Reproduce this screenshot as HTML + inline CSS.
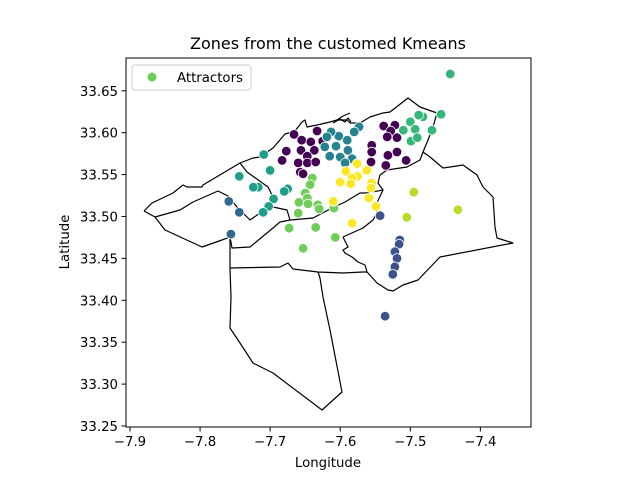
<!DOCTYPE html>
<html><head><meta charset="utf-8">
<style>
body{margin:0;background:#fff;}
svg text{font-family:"DejaVu Sans","Liberation Sans",sans-serif;fill:#000;}
</style></head>
<body>
<svg id="chart" width="640" height="480" viewBox="0 0 640 480">
<rect x="0" y="0" width="640" height="480" fill="#fff"/>
<text x="328" y="49" font-size="16" text-anchor="middle">Zones from the customed Kmeans</text>
<g fill="none" stroke="#000" stroke-width="1.2" stroke-linejoin="round">
<path d="M144,211 L152,203 L173,193 L183,185 L187,187 L202,187 L203,185 L240,163 L253,158 L260,157 L273,148 L285,134 L295,131 L302,122 L305,120 L307,127 L317,125 L330,122 L337,120 L347,120 L350,123 L360,123 L370,117 L383,113 L390,112 L408,98 L420,107 L437,113 L433,127 L428,140 L423,152 L430,157 L443,168 L450,167 L463,165 L477,175 L483,187 L493,197 L495,227 L497,238 L513,243 L440,257 L418,280 L403,285 L393,291 L388,290 L377,283 L367,272 L365,265 L358,262 L352,257 L345,253 L343,250 L348,247 L343,237"/>
<path d="M144,211 L155,217 L165,230 L202,247 L222,240 L230,237 L232,248 L250,247 L273,228 L280,222 L290,220 L313,218 L332,208 L345,202 L360,193 L367,193 L383,190 L378,183 L380,175 L387,170 L407,167 L420,160 L423,152"/>
<path d="M383,190 L375,207 L377,213 L373,220 L363,228 L343,237"/>
<path d="M155,217 L180,210 L193,202 L218,191 L228,196 L237,207 L250,220 L260,213 L267,210 L273,207"/>
<path d="M240,163 L247,172 L268,187 L272,195 L273,207 L287,210 L290,220"/>
<path d="M230,237 L230,268 L280,267 L288,263 L293,269 L318,272 L343,273 L363,272 L367,272 M230,268 L231,297 L230,328 L240,343 L253,363 L273,373 L322,410 L342,392 L330,330 L323,297 L320,278 L318,272"/>
<path d="M337,120 L343,116 L350,113 M333,123 L340,119 L345,122 L348,118 L351,122"/>
</g>
<g id="points"></g>
<rect x="126" y="58" width="405" height="369" fill="none" stroke="#000" stroke-width="1"/>
<g id="xaxis"></g>
<g id="yaxis"></g>
<text x="328" y="467" font-size="13.3" text-anchor="middle">Longitude</text>
<text x="0" y="0" font-size="13.3" text-anchor="middle" transform="translate(69,242) rotate(-90)">Latitude</text>
<g>
<rect x="132" y="65" width="119" height="25" rx="3" fill="#fff" stroke="#ccc" stroke-width="1"/>
<circle cx="152" cy="77" r="4.5" fill="#6ece58"/>
<text x="177" y="82" font-size="13.3">Attractors</text>
</g>
</svg>
<script>
const xTicks = [-7.9, -7.8, -7.7, -7.6, -7.5, -7.4];
const yTicks = [33.25, 33.30, 33.35, 33.40, 33.45, 33.50, 33.55, 33.60, 33.65];
const clusterColors = ["#440154","#3b528b","#31688e","#26828e","#1f9e89","#35b779","#6ece58","#b5de2b","#fde725"];
const lons = [
-7.666,-7.655,-7.633,-7.642,-7.626,-7.677,-7.656,-7.637,-7.647,-7.683,-7.660,-7.647,-7.635,-7.657,-7.653,-7.625,-7.538,-7.522,-7.528,-7.519,-7.533,-7.555,-7.555,-7.556,-7.532,-7.519,-7.506,-7.535,
-7.543,-7.515,-7.516,-7.522,-7.519,-7.522,-7.525,-7.536,
-7.759,-7.744,-7.756,
-7.573,-7.580,-7.590,-7.602,-7.613,-7.619,-7.606,-7.589,-7.615,-7.600,-7.583,-7.593,-7.622,
-7.709,-7.700,-7.744,-7.717,-7.724,-7.675,-7.680,-7.695,-7.702,-7.710,
-7.443,-7.456,-7.469,-7.482,-7.488,-7.500,-7.493,-7.510,-7.499,-7.490,
-7.640,-7.643,-7.650,-7.647,-7.659,-7.646,-7.632,-7.630,-7.660,-7.673,-7.635,-7.653,-7.609,-7.607,
-7.495,-7.432,-7.505,
-7.576,-7.592,-7.562,-7.575,-7.583,-7.600,-7.585,-7.555,-7.556,-7.559,-7.610,-7.549,-7.583];
const lats = [
33.598,33.591,33.602,33.589,33.590,33.578,33.579,33.579,33.572,33.567,33.564,33.564,33.565,33.553,33.551,33.590,33.608,33.609,33.602,33.594,33.595,33.585,33.577,33.565,33.573,33.577,33.567,33.561,
33.501,33.472,33.467,33.458,33.450,33.440,33.431,33.381,
33.518,33.505,33.479,
33.607,33.601,33.591,33.596,33.601,33.595,33.584,33.579,33.572,33.571,33.569,33.564,33.583,
33.574,33.555,33.548,33.535,33.535,33.533,33.530,33.521,33.512,33.505,
33.670,33.622,33.603,33.619,33.621,33.613,33.604,33.603,33.590,33.594,
33.546,33.538,33.528,33.522,33.517,33.515,33.514,33.509,33.504,33.486,33.487,33.462,33.510,33.475,
33.529,33.508,33.499,
33.563,33.554,33.555,33.548,33.546,33.541,33.539,33.540,33.534,33.522,33.518,33.512,33.492];
const clusters = [
0,0,0,0,0,0,0,0,0,0,0,0,0,0,0,0,0,0,0,0,0,0,0,0,0,0,0,0,
1,1,1,1,1,1,1,1,
2,2,2,
3,3,3,3,3,3,3,3,3,3,3,3,3,
4,4,4,4,4,4,4,4,4,4,
5,5,5,5,5,5,5,5,5,5,
6,6,6,6,6,6,6,6,6,6,6,6,6,6,
7,7,7,
8,8,8,8,8,8,8,8,8,8,8,8,8];
const NS = "http://www.w3.org/2000/svg";
function xScale(v){ return 130 + (v + 7.9) * 700.7; }
function yScale(v){ return 426 - (v - 33.25) * 838; }
const pts = document.getElementById('points');
for (let i = 0; i < lons.length; i++) {
  const c = document.createElementNS(NS, 'circle');
  c.setAttribute('cx', xScale(lons[i]).toFixed(1));
  c.setAttribute('cy', yScale(lats[i]).toFixed(1));
  c.setAttribute('r', 4.8);
  c.setAttribute('fill', clusterColors[clusters[i]]);
  c.setAttribute('stroke', '#fff');
  c.setAttribute('stroke-width', '0.8');
  
  
  pts.appendChild(c);
}
const xa = document.getElementById('xaxis');
xTicks.forEach(t => {
  const x = xScale(t);
  const l = document.createElementNS(NS, 'line');
  l.setAttribute('x1', x); l.setAttribute('x2', x);
  l.setAttribute('y1', 427); l.setAttribute('y2', 431.5);
  l.setAttribute('stroke', '#000');
  
  
  xa.appendChild(l);
  const tx = document.createElementNS(NS, 'text');
  tx.setAttribute('x', x); tx.setAttribute('y', 446);
  tx.setAttribute('font-size', '13.3');
  tx.setAttribute('text-anchor', 'middle');
  tx.textContent = '\u2212' + Math.abs(t).toFixed(1);
  
  
  xa.appendChild(tx);
});
const ya = document.getElementById('yaxis');
yTicks.forEach(t => {
  const y = yScale(t);
  const l = document.createElementNS(NS, 'line');
  l.setAttribute('x1', 121.5); l.setAttribute('x2', 126);
  l.setAttribute('y1', y); l.setAttribute('y2', y);
  l.setAttribute('stroke', '#000');
  
  
  ya.appendChild(l);
  const tx = document.createElementNS(NS, 'text');
  tx.setAttribute('x', 118); tx.setAttribute('y', y + 5);
  tx.setAttribute('font-size', '13.3');
  tx.setAttribute('text-anchor', 'end');
  tx.textContent = t.toFixed(2);
  
  
  ya.appendChild(tx);
});
</script>
</body></html>
